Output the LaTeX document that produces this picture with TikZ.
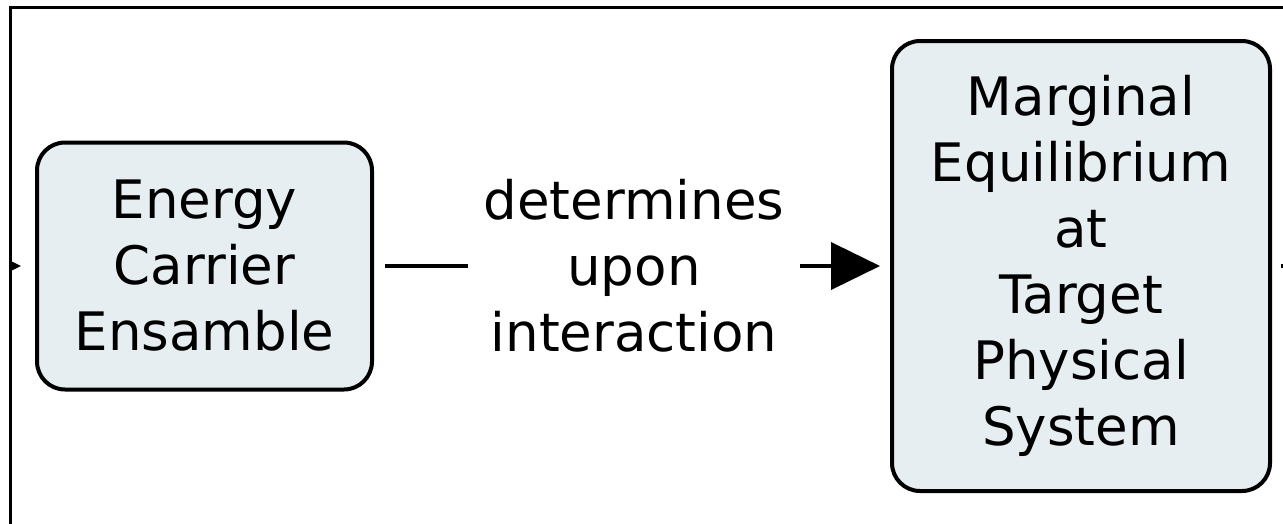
\documentclass[tikz,border=0pt]{standalone}
\usepackage{fontspec}
\setmainfont{DejaVu Sans}
\usetikzlibrary{arrows.meta}
\definecolor{boxfill}{RGB}{230,238,242}

\begin{document}
\begin{tikzpicture}[x = 1pt, y = -1pt]
\tikzstyle{blockStyle} = [shape = rectangle, rounded corners = 28pt, draw, line width = 4pt, fill = boxfill, align = center, inner sep = 0pt, font = \fontsize{53}{66}\selectfont]
\tikzstyle{relationStyle} = [shape = rectangle, align = center, inner xsep = 15pt, inner ysep = 0pt, font = \fontsize{53}{66}\selectfont]
\tikzstyle{EdgeStyle} = [line width = 4pt]
\tikzstyle{ArrowStyle} = [line width = 4pt, -{Triangle[length = 49pt, width = 47pt]}]
\useasboundingbox (0,0) rectangle (1283,523);
% frame (cut out of a larger chain)
\draw[line width = 2.5pt] (10.5,540) -- (10.5,7.5) -- (1300,7.5);
\node[blockStyle, minimum width = 335pt, minimum height = 247pt] (v0) at (204.5,266) {Energy\\Carrier\\Ensamble};
\node[relationStyle] (v1) at (634,266) {determines\\upon\\interaction};
\node[blockStyle, minimum width = 378pt, minimum height = 450pt] (v2) at (1081,266) {Marginal\\Equilibrium\\at\\Target\\Physical\\System};
\coordinate (vin) at (-80,266);
\coordinate (vout) at (1340,266);
\begin{scope}
\clip (10.5,7.5) rectangle (1300,540);
\draw[ArrowStyle, shorten >= 14pt] (vin) -- (v0);
\end{scope}
\draw[EdgeStyle, shorten <= 11pt] (v0) -- (v1);
\draw[ArrowStyle, shorten >= 10pt] (v1) -- (v2);
\draw[EdgeStyle, shorten <= 9pt] (v2) -- (vout);
\end{tikzpicture}
\end{document}
